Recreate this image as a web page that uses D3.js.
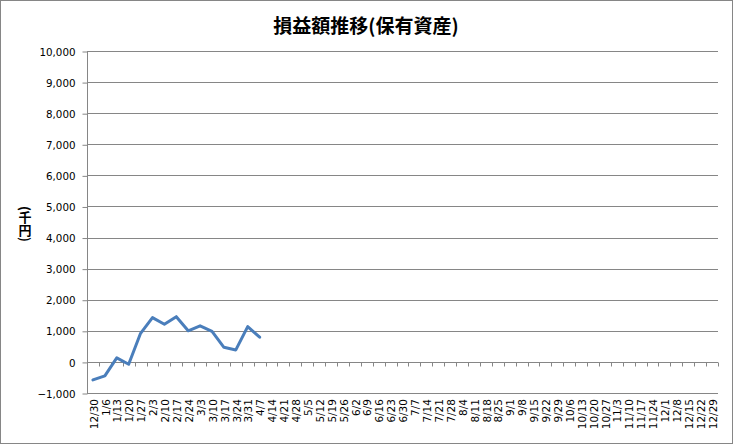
<!DOCTYPE html>
<html><head><meta charset="utf-8">
<script src="https://cdn.jsdelivr.net/npm/d3@7"></script>
<style>
html,body{margin:0;padding:0;background:#fff;}
svg{display:block;}
</style></head>
<body>
<svg id="chart" width="733" height="444"></svg>
<script>
const categories = ["12/30","1/6","1/13","1/20","1/27","2/3","2/10","2/17","2/24","3/3","3/10","3/17","3/24","3/31","4/7","4/14","4/21","4/28","5/5","5/12","5/19","5/26","6/2","6/9","6/16","6/23","6/30","7/7","7/14","7/21","7/28","8/4","8/11","8/18","8/25","9/1","9/8","9/15","9/22","9/29","10/6","10/13","10/20","10/27","11/3","11/10","11/17","11/24","12/1","12/8","12/15","12/22","12/29"];
const values = [-580,-450,130,-75,920,1425,1210,1455,1000,1160,980,470,385,1135,795];
const yTicks = [-1000,0,1000,2000,3000,4000,5000,6000,7000,8000,9000,10000];
const title = "損益額推移(保有資産)";
const yTitle = "(千円)";

const svg = d3.select("#chart");
const W = 733, H = 444;
const plot = {left: 87, right: 718, top: 51, bottom: 393};
const gray = "#868686";

svg.append("rect").attr("x",0.5).attr("y",0.5).attr("width",W-1).attr("height",H-1)
  .attr("fill","#fff").attr("stroke",gray).attr("stroke-width",1);

const x = d3.scaleBand().domain(categories).range([plot.left, plot.right]).paddingInner(0).paddingOuter(0);
const y = d3.scaleLinear().domain([-1000,10000]).range([plot.bottom, plot.top]);

// gridlines
svg.append("g").selectAll("line").data(yTicks).join("line")
  .attr("x1",plot.left).attr("x2",plot.right)
  .attr("y1",d=>Math.round(y(d))+0.5).attr("y2",d=>Math.round(y(d))+0.5)
  .attr("stroke",gray).attr("stroke-width",1);

// y axis
const yAxis = d3.axisLeft(y).tickValues(yTicks).tickSize(5).tickPadding(7)
  .tickFormat(d3.format(","));
const gy = svg.append("g").attr("transform",`translate(${plot.left+0.5},0)`).call(yAxis);
gy.select(".domain").attr("stroke",gray).attr("d",`M0,${plot.top}V${plot.bottom}`);
gy.selectAll(".tick line").attr("stroke",gray).attr("transform","translate(0,0.5)");
gy.selectAll(".tick text").attr("fill","#000").style("font-family","'DejaVu Sans', Verdana, sans-serif").style("font-size","10.3px").attr("dy","0.4em");

// category axis at zero
const y0 = Math.round(y(0))+0.5;
const gx = svg.append("g");
gx.append("line").attr("x1",plot.left).attr("x2",plot.right).attr("y1",y0).attr("y2",y0).attr("stroke",gray);
const bounds = categories.map(c=>x(c)).concat([plot.right]);
gx.selectAll("line.tk").data(bounds).join("line").attr("class","tk")
  .attr("x1",d=>Math.round(d)+0.5).attr("x2",d=>Math.round(d)+0.5)
  .attr("y1",y0).attr("y2",y0+4).attr("stroke",gray);

// x labels (rotated)
svg.append("g").selectAll("text").data(categories).join("text")
  .attr("transform",d=>`translate(${x(d)+x.bandwidth()/2+1},${plot.bottom+6}) rotate(-90)`)
  .attr("text-anchor","end").attr("dy","0.35em")
  .style("font-family","'DejaVu Sans', Verdana, sans-serif").style("font-size","10.5px")
  .attr("fill","#000").text(d=>d);

// line
const line = d3.line().x((d,i)=>x(categories[i])+x.bandwidth()/2).y(d=>y(d));
svg.append("path").datum(values).attr("d",line).attr("fill","none")
  .attr("stroke","#4a7ebb").attr("stroke-width",3).attr("stroke-linejoin","round").attr("stroke-linecap","round");

// title
svg.append("text").attr("x",366).attr("y",33).attr("text-anchor","middle")
  .style("font-family","'Noto Sans CJK JP', sans-serif").style("font-size","19px").style("font-weight","bold")
  .attr("fill","#000").text(title);

// y title vertical
svg.append("text").attr("x",25).attr("y",206)
  .style("writing-mode","vertical-rl").style("font-family","'Noto Sans CJK JP', sans-serif")
  .style("font-size","13px").style("font-weight","bold").attr("fill","#000").text(yTitle);
</script>
</body></html>
